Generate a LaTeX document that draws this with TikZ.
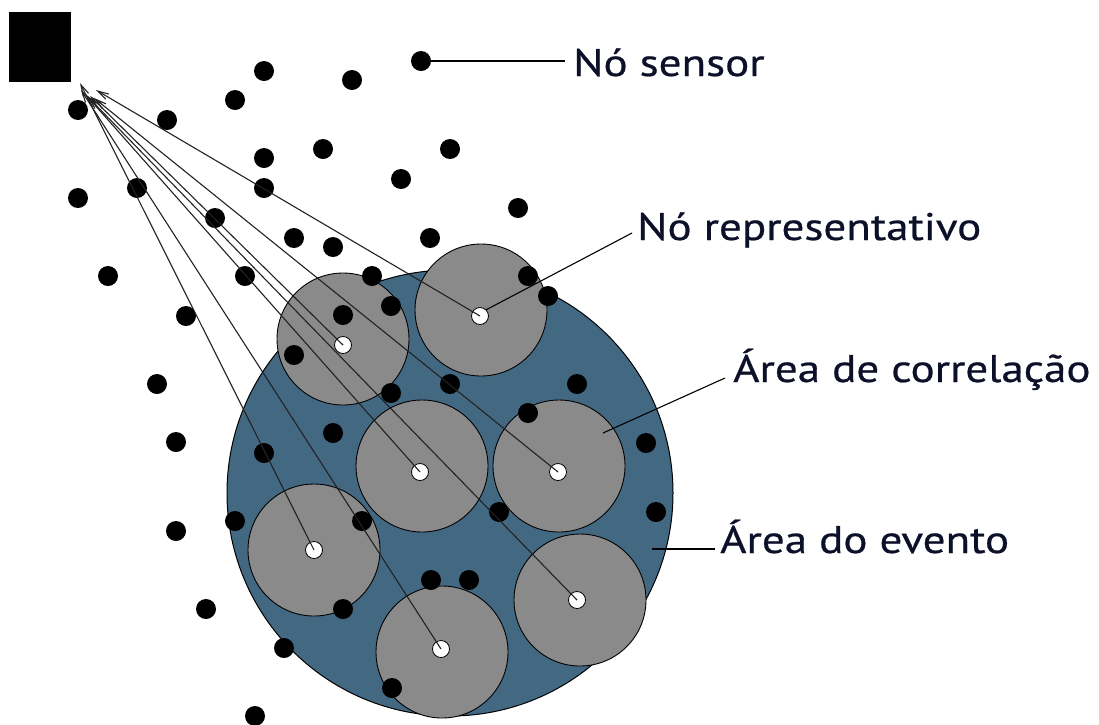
\documentclass[tikz,border=0pt]{standalone}
\usepackage{fontspec}
\setmainfont{PT Sans}
\newfontfamily\labelfont[FakeStretch=1.17,FakeBold=0.6]{PT Sans}
\usetikzlibrary{arrows.meta}
\definecolor{eventblue}{HTML}{436882}
\definecolor{corrgrey}{HTML}{8A8A8A}
\definecolor{labelink}{HTML}{0C1028}
\definecolor{linkgrey}{HTML}{222222}
\tikzset{
  sensor/.style={circle,fill=black,inner sep=0pt,minimum size=20pt},
  repnode/.style={circle,fill=white,draw=black,line width=0.8pt,inner sep=0pt,minimum size=17pt},
  corrarea/.style={circle,fill=corrgrey,draw=black,line width=0.9pt,inner sep=0pt,minimum size=132pt},
  eventarea/.style={circle,fill=eventblue,draw=black,line width=1pt,inner sep=0pt,minimum size=446pt},
  sinkbox/.style={rectangle,fill=black,inner sep=0pt,minimum width=62pt,minimum height=70pt},
  link/.style={draw=linkgrey,line width=1.1pt,-{Straight Barb[length=11pt,width=6pt]}},
  leader/.style={draw=black,line width=1.1pt},
  caption/.style={anchor=base west,inner sep=0pt,text=labelink,font=\labelfont\fontsize{38.5}{40}\selectfont}
}
\begin{document}
\begin{tikzpicture}[x=1pt,y=-1pt]
\useasboundingbox (0,0) rectangle (1099,724);

% event area
\node[eventarea] (ev) at (450,493) {};

% correlation areas
\node[corrarea] (a1) at (343,339) {};
\node[corrarea] (a2) at (481,310) {};
\node[corrarea] (a3) at (422,466) {};
\node[corrarea] (a4) at (559,466) {};
\node[corrarea] (a5) at (314,550) {};
\node[corrarea] (a6) at (442,652) {};
\node[corrarea] (a7) at (580,600) {};

% ordinary sensor nodes
\foreach \x/\y [count=\i] in {
  421/61, 264/71, 352/80, 235/100, 78/110, 167/120, 264/158, 323/149,
  450/149, 401/179, 78/198, 137/188, 264/188, 518/208, 215/218, 294/238,
  333/247, 430/238, 108/276, 245/276, 372/276, 528/276, 548/296, 391/306,
  343/315, 186/316, 294/355, 157/384, 450/384, 391/393, 577/384, 528/413,
  333/433, 176/442, 646/443, 264/453, 499/512, 656/512, 362/521, 235/521,
  176/531, 431/580, 469/580, 343/609, 206/609, 284/648, 392/688, 255/716}
  \node[sensor] (s\i) at (\x,\y) {};

% representative nodes
\node[repnode] (r1) at (343,345) {};
\node[repnode] (r2) at (480,316) {};
\node[repnode] (r3) at (420,472) {};
\node[repnode] (r4) at (558,472) {};
\node[repnode] (r5) at (314,550) {};
\node[repnode] (r6) at (441,649) {};
\node[repnode] (r7) at (577,600) {};

% sink
\node[sinkbox] (sink) at (40,47) {};
\coordinate (t5) at (80,83);
\coordinate (t6) at (81,90);
\coordinate (t3) at (86,95);
\coordinate (t7) at (88,97);
\coordinate (t1) at (90,96);
\coordinate (t4) at (94,98);
\coordinate (t2) at (96,90);

% routes from representative nodes to the sink
\foreach \i in {1,...,7}
  \draw[link] (r\i.center) -- (t\i);

% labels
\node[caption] (lsensor) at (573,76) {Nó sensor};
\node[caption] (lrep) at (637,240) {Nó representativo};
\node[caption] (lcorr) at (733,382) {Área de correlação};
\node[caption] (lev) at (720,553) {Área do evento};

\coordinate (corrpt) at (603,433);
\coordinate (evpt) at (652,549);
\draw[leader] (s1.center) -- (565,61);
\draw[leader] (r2.north east) -- (632,233);
\draw[leader] (corrpt) -- (725,378);
\draw[leader] (evpt) -- (715,549);
\end{tikzpicture}
\end{document}
